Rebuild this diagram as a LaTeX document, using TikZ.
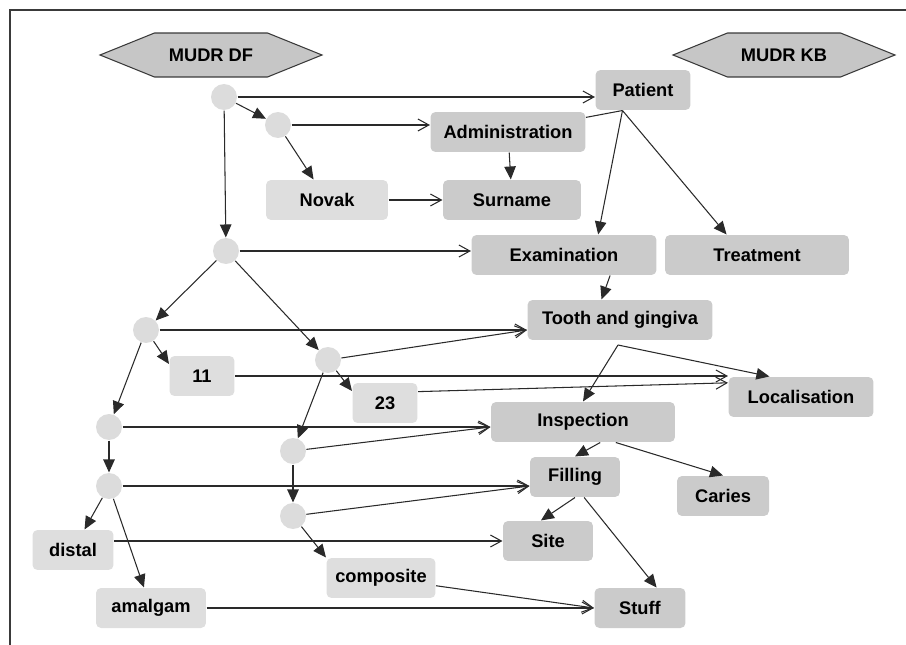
\documentclass[tikz,border=0pt]{standalone}
\usepackage{fontspec}
\setmainfont{Liberation Sans}
\usetikzlibrary{arrows.meta,shapes.symbols}
\definecolor{kbgray}{HTML}{CBCBCB}
\definecolor{dfgray}{HTML}{DEDEDE}
\definecolor{ptgray}{HTML}{DCDCDC}
\definecolor{hexgray}{HTML}{C6C6C6}
\definecolor{hexline}{HTML}{3A3A3A}
\definecolor{linegray}{HTML}{2A2A2A}

\begin{document}
\begin{tikzpicture}[x=0.02cm,y=-0.02cm,line width=0.6pt,
    every node/.style={font=\fontsize{10.4}{12}\selectfont\bfseries},
    kb/.style={fill=kbgray,rounded corners=1mm,minimum height=0.8cm,inner sep=0pt},
    df/.style={fill=dfgray,rounded corners=1mm,minimum height=0.8cm,inner sep=0pt},
    pt/.style={circle,fill=ptgray,minimum size=0.52cm,inner sep=0pt},
    hexa/.style={signal,signal to=east and west,signal pointer angle=44,draw=hexline,fill=hexgray,minimum width=4.44cm,minimum height=0.88cm,inner sep=0pt},
    link/.style={draw=linegray,-{Triangle[length=2.6mm,width=2.3mm]}},
    map/.style={draw=linegray,-{Straight Barb[length=2.2mm,width=2.4mm]}}]
                \useasboundingbox (0,0) rectangle (906,645);
                \draw[hexline,line width=0.8pt] (906,10) -- (10,10) -- (10,645);

                \node[hexa] (df) at (211,55) {MUDR DF};
                \node[hexa] (kbh) at (784,55) {MUDR KB};

                \node[kb,minimum width=1.9cm] (patient) at (643,90) {Patient};
                \node[kb,minimum width=3.1cm] (admin) at (508,132) {Administration};
                \node[kb,minimum width=2.76cm] (surname) at (512,200) {Surname};
                \node[df,minimum width=2.44cm] (novak) at (327,200) {Novak};
                \node[kb,minimum width=3.7cm] (exam) at (564,255) {Examination};
                \node[kb,minimum width=3.68cm] (treat) at (757,255) {Treatment};
                \node[kb,minimum width=3.7cm] (tooth) at (620,320) {Tooth and gingiva};
                \node[kb,minimum width=2.9cm] (local) at (801,397) {Localisation};
                \node[kb,minimum width=3.68cm] (insp) at (583,422) {Inspection};
                \node[kb,minimum width=1.8cm] (filling) at (575,477) {Filling};
                \node[kb,minimum width=1.84cm] (caries) at (723,496) {Caries};
                \node[kb,minimum width=1.8cm] (site) at (548,541) {Site};
                \node[kb,minimum width=1.82cm] (stuff) at (640,608) {Stuff};
                \node[df,minimum width=1.3cm] (n11) at (202,376) {11};
                \node[df,minimum width=1.3cm] (n23) at (385,403) {23};
                \node[df,minimum width=1.62cm] (distal) at (73,550) {distal};
                \node[df,minimum width=2.2cm] (amalgam) at (151,608) {amalgam};
                \node[df,minimum width=2.18cm] (composite) at (381,578) {composite};

                \node[pt] (c1) at (224,97) {};
                \node[pt] (c2) at (278,125) {};
                \node[pt] (c3) at (226,251) {};
                \node[pt] (c4) at (146,330) {};
                \node[pt] (c5) at (328,360) {};
                \node[pt] (c6) at (109,427) {};
                \node[pt] (c7) at (293,451) {};
                \node[pt] (c8) at (109,486) {};
                \node[pt] (c9) at (293,516) {};

                \coordinate (pb) at (patient.225);
                \coordinate (tb) at (618,345);

                \draw[link] (c1) -- (c2);
                \draw[link] (c1) -- (c3);
                \draw[link] (c2) -- (novak);
                \draw[link] (admin) -- (surname);
                \draw[linegray] (pb) -- (admin);
                \draw[link] (pb) -- (exam.31);
                \draw[link] (pb) -- (treat.146);
                \draw[link] (exam.-24) -- (tooth.132);
                \draw[link] (tb) -- (insp.north);
                \draw[link] (tb) -- (local.147);
                \draw[link] (insp.-50) -- (filling.north);
                \draw[link] (insp.-32) -- (caries.north);
                \draw[link] (filling.south) -- (site.109);
                \draw[link] (filling.-66) -- (stuff.51);
                \draw[link] (c3) -- (c4);
                \draw[link] (c3) -- (c5);
                \draw[link] (c4) -- (n11.160);
                \draw[link] (c4) -- (c6);
                \draw[link] (c5) -- (n23.160);
                \draw[link] (c5) -- (c7);
                \draw[link] (c6) -- (c8);
                \draw[link] (c7) -- (c9);
                \draw[link] (c8) -- (distal);
                \draw[link] (c8) -- (amalgam);
                \draw[link] (c9) -- (composite.north west);

                \draw[map] (c1) -- (c1 -| patient.west);
                \draw[map] (c2) -- (c2 -| admin.west);
                \draw[map] (novak) -- (surname);
                \draw[map] (c3) -- (c3 -| exam.west);
                \draw[map] (c4) -- (c4 -| tooth.west);
                \draw[map] (c5) -- (c4 -| tooth.west);
                \draw[map] (n11) -- (n11 -| local.west);
                \draw[map] (n23.19) -- (local.169);
                \draw[map] (c6) -- (c6 -| insp.west);
                \draw[map] (c7) -- (c6 -| insp.west);
                \draw[map] (c8) -- (c8 -| filling.west);
                \draw[map] (c9) -- (c8 -| filling.west);
                \draw[map] (distal.east |- site) -- (site);
                \draw[map] (amalgam) -- (stuff);
                \draw[map] (composite) -- (stuff.west);
\end{tikzpicture}
\end{document}
